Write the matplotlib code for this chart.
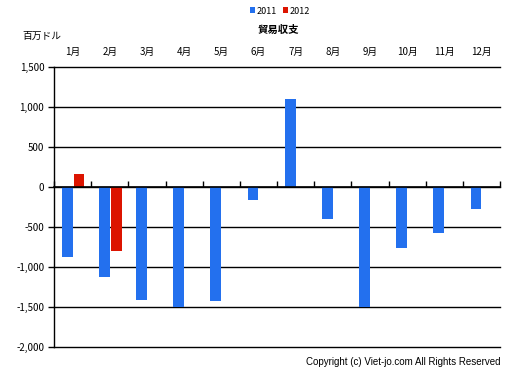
import numpy as np
import matplotlib.pyplot as plt
from matplotlib.ticker import FuncFormatter

plt.rcParams['font.family'] = ['Noto Sans CJK JP', 'DejaVu Sans']

# Trade balance (million USD)
months = ['1月', '2月', '3月', '4月', '5月', '6月', '7月', '8月', '9月', '10月', '11月', '12月']
y2011 = [-880, -1120, -1410, -1500, -1420, -160, 1100, -400, -1500, -760, -570, -270]
y2012 = [160, -800]

blue = '#2370EE'
red = '#DC1400'

fig = plt.figure(figsize=(5.12, 3.76), dpi=100)
ax = fig.add_axes([54 / 512, 29 / 376, 446 / 512, 280 / 376])

x = np.arange(len(months)) + 0.5
w = 0.29
ax.bar(x - w / 2, y2011, width=w, color=blue, label='2011', zorder=3)
ax.bar(x[:len(y2012)] + w / 2 + 0.03, y2012, width=w, color=red, label='2012', zorder=3)

ax.set_xlim(0, 12)
ax.set_ylim(-2000, 1500)
ax.set_yticks(np.arange(-2000, 1501, 500))
ax.yaxis.set_major_formatter(FuncFormatter(lambda v, p: f'{int(v):,}'))
ax.grid(axis='y', color='black', linewidth=1.0, zorder=1)
for gl in ax.get_ygridlines():
    gl.set_clip_on(False)

# month labels on top, category boundary ticks on the zero line
ax.set_xticks(x)
ax.set_xticklabels(months)
ax.set_xticks(np.arange(0, 13), minor=True)
ax.tick_params(axis='x', which='major', top=True, labeltop=True, bottom=False,
               labelbottom=False, length=0, pad=7, labelsize=7)
ax.tick_params(axis='x', which='minor', bottom=True, top=False, direction='in',
               length=4, width=1, color='black')
ax.tick_params(axis='y', length=4, width=1, labelsize=7, pad=3)

ax.spines['bottom'].set_position(('data', 0))
ax.spines['bottom'].set_linewidth(1.2)
ax.spines['left'].set_linewidth(1.0)
ax.spines['top'].set_visible(False)
ax.spines['right'].set_visible(False)
for sp in ax.spines.values():
    sp.set_zorder(4)

fig.text(278 / 512, 1 - 30 / 376, '貿易収支', ha='center', va='center',
         fontsize=7.5, fontweight='bold')
fig.text(22 / 512, 1 - 36 / 376, '百万ドル', ha='left', va='center', fontsize=7)
fig.text(500 / 512, 1 - 362 / 376, 'Copyright (c) Viet-jo.com All Rights Reserved',
         ha='right', va='center', fontsize=7, family=['Liberation Sans', 'DejaVu Sans'])

fig.legend(loc='center', bbox_to_anchor=(280 / 512, 1 - 11 / 376), ncol=2,
           frameon=False, fontsize=6.5, handlelength=0.6, handleheight=0.6,
           handletextpad=0.2, columnspacing=0.6, borderpad=0)

fig.savefig('out.png', dpi=100)
